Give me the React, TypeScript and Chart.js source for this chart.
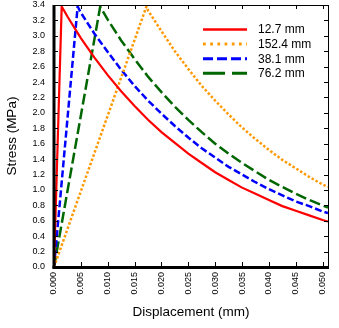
import React, { useEffect, useRef } from 'react';
import { Chart, registerables } from 'chart.js';

Chart.register(...registerables);

// Tick values and labels
const xTickValues = [0, 0.005, 0.01, 0.015, 0.02, 0.025, 0.03, 0.035, 0.04, 0.045, 0.05];
const xTickLabels = ['0.000', '0.005', '0.010', '0.015', '0.020', '0.025', '0.030', '0.035', '0.040', '0.045', '0.050'];
const yTickValues = [0, 0.2, 0.4, 0.6, 0.8, 1.0, 1.2, 1.4, 1.6, 1.8, 2.0, 2.2, 2.4, 2.6, 2.8, 3.0, 3.2, 3.4];
const yTickLabels = ['0.0', '0.2', '0.4', '0.6', '0.8', '1.0', '1.2', '1.4', '1.6', '1.8', '2.0', '2.2', '2.4', '2.6', '2.8', '3.0', '3.2', '3.4'];

const seriesNames = ['12.7 mm', '152.4 mm', '38.1 mm', '76.2 mm'];

// 12.7 mm
const disp127 = [0, 0.00143, 0.0025, 0.005, 0.0075, 0.01, 0.0125, 0.015, 0.0175, 0.02, 0.0225, 0.025, 0.0275, 0.03, 0.0325, 0.035, 0.0375, 0.04, 0.0425, 0.045, 0.0475, 0.05, 0.051];
const stress127 = [0, 3.38, 3.25, 2.97, 2.72, 2.49, 2.28, 2.09, 1.91, 1.75, 1.61, 1.47, 1.35, 1.23, 1.13, 1.03, 0.95, 0.87, 0.79, 0.73, 0.67, 0.61, 0.59];

// 152.4 mm
const disp1524 = [0, 0.0172, 0.0175, 0.02, 0.0225, 0.025, 0.0275, 0.03, 0.0325, 0.035, 0.0375, 0.04, 0.0425, 0.045, 0.0475, 0.05, 0.051];
const stress1524 = [0, 3.38, 3.33, 3.06, 2.8, 2.57, 2.35, 2.16, 1.98, 1.81, 1.66, 1.52, 1.39, 1.28, 1.17, 1.07, 1.04];

// 38.1 mm
const disp381 = [0, 0.0044, 0.005, 0.0075, 0.01, 0.0125, 0.015, 0.0175, 0.02, 0.0225, 0.025, 0.0275, 0.03, 0.0325, 0.035, 0.0375, 0.04, 0.0425, 0.045, 0.0475, 0.05, 0.051];
const stress381 = [0, 3.38, 3.3, 3.03, 2.79, 2.56, 2.35, 2.16, 1.99, 1.83, 1.68, 1.54, 1.42, 1.3, 1.2, 1.1, 1.01, 0.93, 0.85, 0.79, 0.72, 0.7];

// 76.2 mm
const disp762 = [0, 0.0086, 0.01, 0.0125, 0.015, 0.0175, 0.02, 0.0225, 0.025, 0.0275, 0.03, 0.0325, 0.035, 0.0375, 0.04, 0.0425, 0.045, 0.0475, 0.05, 0.051];
const stress762 = [0, 3.38, 3.21, 2.94, 2.7, 2.47, 2.27, 2.08, 1.91, 1.75, 1.6, 1.47, 1.35, 1.24, 1.13, 1.04, 0.95, 0.87, 0.8, 0.77];

const toPoints = (xs: number[], ys: number[]) => xs.map((x, i) => ({ x, y: ys[i] }));

const FONT = '"Liberation Sans", Arial, sans-serif';

const legendDashes: number[][] = [[], [2.7, 4.5], [10, 4], [22, 7]];
const legendWidths = [2.5, 3, 3, 3];

const legendPlugin = {
  id: 'insideLegend',
  afterDatasetsDraw(chart: any) {
    const ctx = chart.ctx as CanvasRenderingContext2D;
    chart.data.datasets.forEach((ds: any, i: number) => {
      const y = 29.5 + i * 14.6;
      ctx.save();
      ctx.strokeStyle = ds.borderColor;
      ctx.lineWidth = legendWidths[i];
      ctx.setLineDash(legendDashes[i]);
      ctx.beginPath();
      ctx.moveTo(203, y);
      ctx.lineTo(247, y);
      ctx.stroke();
      ctx.setLineDash([]);
      ctx.fillStyle = '#000';
      ctx.font = '12px ' + FONT;
      ctx.textBaseline = 'middle';
      ctx.textAlign = 'left';
      ctx.fillText(ds.label, 258, y + 0.5);
      ctx.restore();
    });
  },
};

const framePlugin = {
  id: 'frame',
  afterDraw(chart: any) {
    const ctx = chart.ctx as CanvasRenderingContext2D;
    const { left, right, top, bottom } = chart.chartArea;
    const xs = chart.scales.x;
    const ys = chart.scales.y;
    ctx.save();
    ctx.strokeStyle = '#000';
    ctx.lineWidth = 1;
    ctx.beginPath();
    xTickValues.forEach((v) => {
      const px = Math.round(xs.getPixelForValue(v)) + 0.5;
      ctx.moveTo(px, bottom);
      ctx.lineTo(px, bottom - 5);
      ctx.moveTo(px, top);
      ctx.lineTo(px, top + 4);
    });
    yTickValues.forEach((v) => {
      const py = Math.round(ys.getPixelForValue(v)) + 0.5;
      ctx.moveTo(left, py);
      ctx.lineTo(left + 4, py);
      ctx.moveTo(right, py);
      ctx.lineTo(right - 4, py);
    });
    ctx.stroke();
    ctx.beginPath();
    ctx.moveTo(left, top + 0.5);
    ctx.lineTo(right + 0.5, top + 0.5);
    ctx.moveTo(right + 0.5, top);
    ctx.lineTo(right + 0.5, bottom);
    ctx.stroke();
    ctx.fillStyle = '#000';
    ctx.fillRect(left - 1.5, top, 3, bottom - top + 1.5);
    ctx.fillRect(left - 1.5, bottom - 1, right - left + 2.5, 3);
    ctx.restore();
  },
};

export default function App() {
  const ref = useRef<HTMLCanvasElement | null>(null);

  useEffect(() => {
    document.body.style.margin = '0';
    if (!ref.current) return;
    const chart = new Chart(ref.current, {
      type: 'line',
      data: {
        datasets: [
          {
            label: seriesNames[0],
            data: toPoints(disp127, stress127),
            borderColor: '#ff0000',
            borderWidth: 2.2,
            pointRadius: 0,
            tension: 0,
            fill: false,
          },
          {
            label: seriesNames[1],
            data: toPoints(disp1524, stress1524),
            borderColor: '#ff9900',
            borderWidth: 2.5,
            borderDash: [2.5, 2],
            pointRadius: 0,
            tension: 0,
            fill: false,
          },
          {
            label: seriesNames[2],
            data: toPoints(disp381, stress381),
            borderColor: '#0000ff',
            borderWidth: 2.5,
            borderDash: [7, 3],
            pointRadius: 0,
            tension: 0,
            fill: false,
          },
          {
            label: seriesNames[3],
            data: toPoints(disp762, stress762),
            borderColor: '#006600',
            borderWidth: 2.5,
            borderDash: [11, 4],
            pointRadius: 0,
            tension: 0,
            fill: false,
          },
        ],
      },
      options: {
        animation: false,
        responsive: false,
        devicePixelRatio: 1,
        layout: { padding: { left: 0, top: 5, right: 11, bottom: 0 } },
        plugins: {
          legend: { display: false },
          tooltip: { enabled: false },
        },
        scales: {
          x: {
            type: 'linear',
            min: 0,
            max: 0.051,
            grid: { display: false, drawTicks: false },
            border: { display: false },
            afterBuildTicks: (s: any) => {
              s.ticks = xTickValues.map((v) => ({ value: v }));
            },
            afterFit: (s: any) => {
              s.height = 61;
              s.paddingLeft = 0;
              s.paddingRight = 0;
            },
            ticks: {
              autoSkip: false,
              maxRotation: 90,
              minRotation: 90,
              padding: 5,
              color: '#000',
              font: { family: FONT, size: 9 },
              callback: (_v: any, i: number) => xTickLabels[i],
            },
            title: {
              display: true,
              text: 'Displacement (mm)',
              color: '#000',
              font: { family: FONT, size: 13.5 },
              padding: { top: 0, bottom: 7.4 },
            },
          },
          y: {
            type: 'linear',
            min: 0,
            max: 3.4,
            grid: { display: false, drawTicks: false },
            border: { display: false },
            afterBuildTicks: (s: any) => {
              s.ticks = yTickValues.map((v) => ({ value: v }));
            },
            afterFit: (s: any) => {
              s.width = 54;
              s.paddingTop = 0;
              s.paddingBottom = 0;
            },
            ticks: {
              autoSkip: false,
              padding: 9,
              color: '#000',
              font: { family: FONT, size: 9 },
              callback: (_v: any, i: number) => yTickLabels[i],
            },
            title: {
              display: true,
              text: 'Stress (MPa)',
              color: '#000',
              font: { family: FONT, size: 13.5 },
              padding: { top: 4.4, bottom: 0 },
            },
          },
        },
      },
      plugins: [legendPlugin, framePlugin],
    });
    return () => chart.destroy();
  }, []);

  return (
    <div style={{ position: 'absolute', left: 0, top: 0, width: 339, height: 328, background: '#fff' }}>
      <canvas ref={ref} width={339} height={328} style={{ width: 339, height: 328 }} />
    </div>
  );
}
